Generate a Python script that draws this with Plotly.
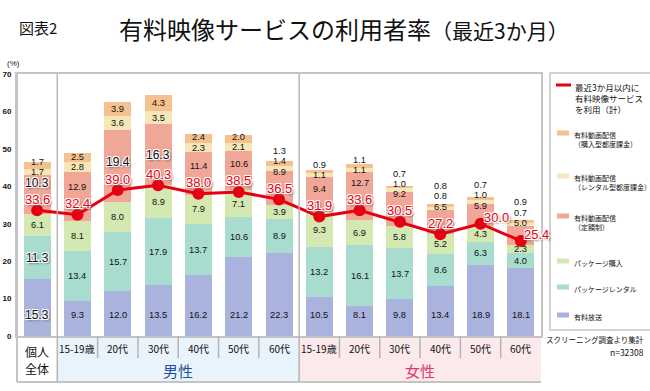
import plotly.graph_objects as go

# ---------------- data ----------------
categories = ["個人全体", "15-19歳", "20代", "30代", "40代", "50代", "60代",
              "15-19歳", "20代", "30代", "40代", "50代", "60代"]
group_names = ["男性", "女性"]
group_ranges = [(1, 6), (7, 12)]

series_names = ["有料放送", "パッケージレンタル", "パッケージ購入",
                "有料動画配信<br>（定額制）",
                "有料動画配信<br>（レンタル型都度課金）",
                "有料動画配信<br>（購入型都度課金）"]
broadcast = [15.3, 9.3, 12.0, 13.5, 16.2, 21.2, 22.3, 10.5, 8.1, 9.8, 13.4, 18.9, 18.1]
pkg_rental = [11.3, 13.4, 15.7, 17.9, 13.7, 10.6, 8.9, 13.2, 16.1, 13.7, 8.6, 6.3, 4.0]
pkg_purchase = [6.1, 8.1, 8.0, 8.9, 7.9, 7.1, 3.9, 9.3, 6.9, 5.8, 5.2, 4.3, 2.3]
svod = [10.3, 12.9, 19.4, 16.3, 11.4, 10.6, 8.9, 9.4, 12.7, 9.2, 6.5, 5.9, 5.0]
tvod_rental = [1.7, 2.8, 3.6, 3.5, 2.3, 2.1, 1.4, 1.1, 1.1, 1.0, 0.8, 1.0, 0.7]
tvod_purchase = [1.7, 2.5, 3.9, 4.3, 2.4, 2.0, 1.3, 0.9, 1.1, 0.7, 0.8, 0.7, 0.9]

line_name = "最近3か月以内に<br>有料映像サービス<br>を利用（計）"
total_users = [33.6, 32.4, 39.0, 40.3, 38.0, 38.5, 36.5, 31.9, 33.6, 30.5, 27.2, 30.0, 25.4]

y_ticks = [0, 10, 20, 30, 40, 50, 60, 70]

title_main = "有料映像サービスの利用者率"
title_sub = "（最近3か月）"
fig_no = "図表2"
source_note = "スクリーニング調査より集計"
n_note = "n=32308"

# ---------------- style ----------------
colors = ["#aab3dd", "#a8dccf", "#d4e8b1", "#f0a798", "#f6e6b8", "#f5c18f"]
red = "#e60012"
grey = "#c4c4c4"
JP = "Noto Sans CJK JP"
NUM = "Liberation Sans"

W, H = 650, 391
L, R, T, B = 17, 541, 74, 336


def pxx(p):
    return (p - L) / (R - L)


def pxy(p):
    return (B - p) / (B - T)


series = [broadcast, pkg_rental, pkg_purchase, svod, tvod_rental, tvod_purchase]
xs = list(range(len(categories)))

fig = go.Figure()
for name, vals, col in zip(series_names, series, colors):
    fig.add_trace(go.Bar(x=xs, y=vals, name=name, marker=dict(color=col, line=dict(width=0)),
                         width=0.67, showlegend=False, hoverinfo="skip"))

fig.add_trace(go.Scatter(x=xs, y=total_users, mode="lines+markers", name=line_name,
                         line=dict(color=red, width=3),
                         marker=dict(color=red, size=12), showlegend=False, hoverinfo="skip"))

ann = []
halo = ("-1px -1px 0 #fff, 1px -1px 0 #fff, -1px 1px 0 #fff, 1px 1px 0 #fff, "
        "2px 2px 2px #777")

BASE_ROW = 5.7
GAP = 2.75
line_label_nudge = {11: (16, 6), 12: (16, 6)}

for i in xs:
    vals = [s[i] for s in series]
    cum = [0]
    for v in vals:
        cum.append(cum[-1] + v)
    mids = [(cum[k] + cum[k + 1]) / 2 for k in range(6)]
    ys = [BASE_ROW, mids[1], mids[2]]
    ll = total_users[i] + 2.8
    y3 = max(mids[3], ll + 4.6) if i not in line_label_nudge else max(mids[3], ll + 2.0)
    y4 = max(mids[4], y3 + GAP)
    y5 = max(mids[5], y4 + GAP)
    ys += [y3, y4, y5]
    for k in range(6):
        v = vals[k]
        big = (i == 0 and v >= 10) or (k == 3 and v >= 15)
        f = dict(family=NUM, size=12 if big else 9.3, color="#111")
        if big:
            f["shadow"] = halo
        ann.append(dict(x=i, y=ys[k], xref="x", yref="y", text=f"{v:.1f}", showarrow=False,
                        font=f, xanchor="center", yanchor="middle"))
    dx, dy = line_label_nudge.get(i, (0, 11))
    ann.append(dict(x=i, y=total_users[i], xref="x", yref="y", text=f"{total_users[i]:.1f}",
                    showarrow=False, xshift=dx, yshift=dy,
                    font=dict(family=NUM, size=13, color=red, shadow=halo),
                    xanchor="center", yanchor="middle"))

shapes = []
band_bottom = pxy(382)
band_colors = ["#e8f3fb", "#fbe9ec"]
for (a, b), bc in zip(group_ranges, band_colors):
    shapes.append(dict(type="rect", xref="x", yref="paper", x0=a - 0.5, x1=b + 0.5,
                       y0=band_bottom, y1=0, fillcolor=bc, line=dict(width=0), layer="below"))
shapes.append(dict(type="line", xref="paper", yref="paper", x0=0, x1=1, y0=band_bottom, y1=band_bottom,
                   line=dict(color=grey, width=2)))
shapes.append(dict(type="line", xref="paper", yref="paper", x0=0, x1=0, y0=band_bottom, y1=1,
                   line=dict(color=grey, width=2)))
for sep in [0.5, 6.5]:
    shapes.append(dict(type="line", xref="x", yref="paper", x0=sep, x1=sep, y0=band_bottom, y1=1,
                       line=dict(color="#b5b5b5", width=1.5)))
tick_sep_bottom = pxy(358)
for j in list(range(1, 6)) + list(range(7, 12)):
    shapes.append(dict(type="line", xref="x", yref="paper", x0=j + 0.5, x1=j + 0.5,
                       y0=tick_sep_bottom, y1=0, line=dict(color="#b5b5b5", width=1.5)))

for i, c in enumerate(categories):
    if i == 0:
        for part, yp in [(c[:2], 351), (c[2:], 368)]:
            ann.append(dict(x=i, y=pxy(yp), xref="x", yref="paper", text=part, showarrow=False,
                            font=dict(family=JP, size=12, color="#111"),
                            xanchor="center", yanchor="middle"))
    else:
        ann.append(dict(x=i, y=pxy(348), xref="x", yref="paper", text=c, showarrow=False,
                        font=dict(family=JP, size=10, color="#111"), xanchor="center", yanchor="middle"))
for gname, (a, b), gc in zip(group_names, group_ranges, ["#1f4f9f", "#e5336d"]):
    ann.append(dict(x=(a + b) / 2, y=pxy(370), xref="x", yref="paper", text=gname, showarrow=False,
                    font=dict(family=JP, size=15, color=gc), xanchor="center", yanchor="middle"))

ann.append(dict(x=pxx(17), y=pxy(27), xref="paper", yref="paper", text=fig_no, showarrow=False,
                font=dict(family=JP, size=15, color="#111"), xanchor="left", yanchor="middle"))
ann.append(dict(x=pxx(117), y=pxy(28), xref="paper", yref="paper",
                text=title_main + f"<span style='font-size:21px'>{title_sub}</span>", showarrow=False,
                font=dict(family=JP, size=24, color="#111"), xanchor="left", yanchor="middle"))
ann.append(dict(x=pxx(5), y=pxy(63), xref="paper", yref="paper", text="(%)", showarrow=False,
                font=dict(family=NUM, size=8, color="#111"), xanchor="left", yanchor="middle"))

# legend (drawn)
shapes.append(dict(type="rect", xref="paper", yref="paper", x0=pxx(550), x1=pxx(652),
                   y0=pxy(330), y1=pxy(73), line=dict(color=grey, width=1.5), fillcolor="rgba(0,0,0,0)"))
shapes.append(dict(type="line", xref="paper", yref="paper", x0=pxx(556), x1=pxx(571),
                   y0=pxy(85), y1=pxy(85), line=dict(color=red, width=3)))
fig.add_trace(go.Scatter(x=[pxx(563.5)], y=[pxy(85)], xaxis="x2", yaxis="y2", mode="markers",
                         marker=dict(color=red, size=10), cliponaxis=False,
                         showlegend=False, hoverinfo="skip"))
ann.append(dict(x=pxx(573), y=pxy(79), xref="paper", yref="paper", text=line_name, showarrow=False,
                font=dict(family=JP, size=8.5, color="#111"), xanchor="left", yanchor="top", align="left"))

legend_rows = [(5, 133), (4, 176), (3, 216), (2, 261), (1, 287), (0, 315)]
for k, yc in legend_rows:
    shapes.append(dict(type="rect", xref="paper", yref="paper", x0=pxx(557), x1=pxx(569),
                       y0=pxy(yc + 2.5), y1=pxy(yc - 2.5), fillcolor=colors[k], line=dict(width=0)))
    ann.append(dict(x=pxx(572), y=pxy(yc - 5.5), xref="paper", yref="paper", text=series_names[k],
                    showarrow=False, font=dict(family=JP, size=7, color="#111"),
                    xanchor="left", yanchor="top", align="left"))

ann.append(dict(x=pxx(646), y=pxy(339), xref="paper", yref="paper", text=source_note, showarrow=False,
                font=dict(family=JP, size=7.5, color="#111"), xanchor="right", yanchor="middle"))
ann.append(dict(x=pxx(646), y=pxy(352), xref="paper", yref="paper", text=n_note, showarrow=False,
                font=dict(family=JP, size=8.5, color="#111"), xanchor="right", yanchor="middle"))

fig.update_layout(
    width=W, height=H, barmode="stack",
    margin=dict(l=L, r=W - R, t=T, b=H - B, pad=0, autoexpand=False),
    paper_bgcolor="white", plot_bgcolor="white",
    showlegend=False,
    xaxis=dict(range=[-0.5, len(categories) - 0.5], showticklabels=False, showgrid=False,
               zeroline=False, showline=True, linecolor=grey, linewidth=2, mirror=True, ticks="",
               automargin=False),
    yaxis=dict(range=[0, 70], tickvals=y_ticks, showgrid=False, zeroline=False,
               showline=True, linecolor=grey, linewidth=2, mirror=True, ticks="",
               tickfont=dict(family=NUM, size=8, color="#111", weight="bold"),
               ticklabelstandoff=2, automargin=False),
    xaxis2=dict(range=[0, 1], overlaying="x", visible=False, anchor="y2", automargin=False),
    yaxis2=dict(range=[0, 1], overlaying="y", visible=False, anchor="x2", automargin=False),
    annotations=ann, shapes=shapes,
)

fig.write_html("out.html", config={"displayModeBar": False},
               post_script="document.body.style.margin='0';document.body.style.overflow='hidden';")
